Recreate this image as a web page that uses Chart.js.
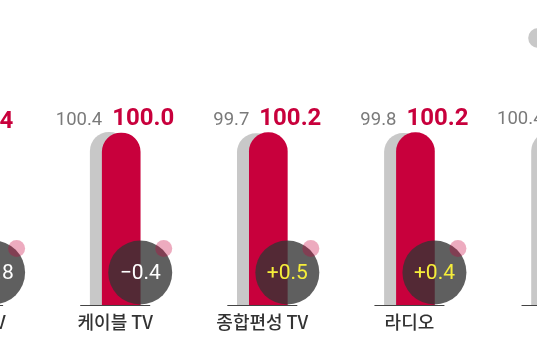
<!DOCTYPE html>
<html><head><meta charset="utf-8">
<script src="https://cdn.jsdelivr.net/npm/chart.js@4"></script>
<style>
html,body{margin:0;padding:0;background:#fff;overflow:hidden;width:537px;height:360px;}
#wrap{position:absolute;left:-120px;top:0;width:801px;height:360px;}
</style></head><body>
<div id="wrap"><canvas id="c"></canvas></div>
<script>
const categories = ['지상파 TV', '케이블 TV', '종합편성 TV', '라디오', '신문'];
const prevValues = [100.2, 100.4, 99.7, 99.8, 100.4];
const currValues = [98.4, 100.0, 100.2, 100.2, 100.7];
const changes = [-1.8, -0.4, 0.5, 0.4, 0.3];
const seriesNames = ['2022년', '2023년'];

const RED = '#c8003c';
const GRAY = '#c8c8c8';
const SHIFT = 0.0408; // half-offset between the two overlapping bars (category units)

function fmt(v) { return (v < 0 ? '\u2212' : '+') + Math.abs(v).toFixed(1); }

const overlay = {
  id: 'overlay',
  afterDatasetsDraw(chart) {
    const ctx = chart.ctx;
    const xs = chart.scales.x, ys = chart.scales.y;
    const redMeta = chart.getDatasetMeta(0);
    const y0 = ys.getPixelForValue(0);
    categories.forEach((cat, i) => {
      const cx = xs.getPixelForValue(i);
      const bar = redMeta.data[i];
      const left = bar.x - bar.width / 2, right = bar.x + bar.width / 2;
      ctx.save();
      // baseline segment
      ctx.strokeStyle = '#444';
      ctx.lineWidth = 1;
      ctx.beginPath();
      ctx.moveTo(cx - 35, Math.round(y0) + 0.5);
      ctx.lineTo(cx + 35, Math.round(y0) + 0.5);
      ctx.stroke();
      // value labels
      const ly = bar.y - 8;
      ctx.textBaseline = 'alphabetic';
      ctx.font = '18.5px Roboto';
      ctx.fillStyle = '#7a7a7a';
      ctx.textAlign = 'right';
      ctx.fillText(prevValues[i].toFixed(1), left, ly);
      ctx.font = 'bold 24px Roboto';
      ctx.fillStyle = RED;
      ctx.textAlign = 'left';
      ctx.fillText(currValues[i].toFixed(1), left + 10, ly);
      // change bubble
      const r = 32;
      const ccy = y0 - r - 0.5;
      ctx.fillStyle = 'rgba(52,52,52,0.79)';
      ctx.beginPath(); ctx.arc(right, ccy, r, 0, Math.PI * 2); ctx.fill();
      ctx.fillStyle = 'rgba(200,0,60,0.33)';
      ctx.beginPath(); ctx.arc(right + 23.5, ccy - 24, 8.5, 0, Math.PI * 2); ctx.fill();
      ctx.font = '21px Roboto';
      ctx.textAlign = 'center';
      ctx.textBaseline = 'middle';
      ctx.fillStyle = changes[i] < 0 ? '#ffffff' : '#f6ee3a';
      ctx.fillText(fmt(changes[i]), right, ccy + 1);
      ctx.restore();
    });
  }
};

new Chart(document.getElementById('c'), {
  type: 'bar',
  data: {
    datasets: [
      {
        label: seriesNames[1],
        data: currValues.map((v, i) => ({ x: i + SHIFT, y: v })),
        backgroundColor: RED, borderColor: RED, borderWidth: 0,
        borderRadius: 19, barThickness: 38, grouped: false
      },
      {
        label: seriesNames[0],
        data: prevValues.map((v, i) => ({ x: i - SHIFT, y: v })),
        backgroundColor: GRAY, borderColor: GRAY, borderWidth: 0,
        borderRadius: 19, barThickness: 38, grouped: false
      }
    ]
  },
  options: {
    responsive: true,
    maintainAspectRatio: false,
    animation: false,
    layout: { padding: { left: 14.55, right: 0, top: 21, bottom: 21.4 } },
    plugins: {
      tooltip: { enabled: false },
      legend: {
        display: true, position: 'top', align: 'end', reverse: true,
        labels: {
          usePointStyle: true, pointStyle: 'circle', boxWidth: 14, boxHeight: 14,
          padding: 10, color: '#555',
          font: { family: "'Noto Sans CJK KR'", size: 14 }
        }
      }
    },
    scales: {
      x: {
        type: 'linear', min: -0.5, max: 4.846, offset: false,
        grid: { display: false, drawTicks: false },
        border: { display: false },
        afterBuildTicks: (scale) => { scale.ticks = categories.map((c, i) => ({ value: i })); },
        ticks: {
          padding: 6, autoSkip: false, maxRotation: 0, color: '#333',
          font: { family: "'Noto Sans CJK KR'", size: 18, weight: '500' },
          callback: (v) => categories[v]
        }
      },
      y: {
        display: false, min: 0, max: 145.35,
        grid: { display: false }
      }
    }
  },
  plugins: [overlay]
});
</script>
</body></html>
